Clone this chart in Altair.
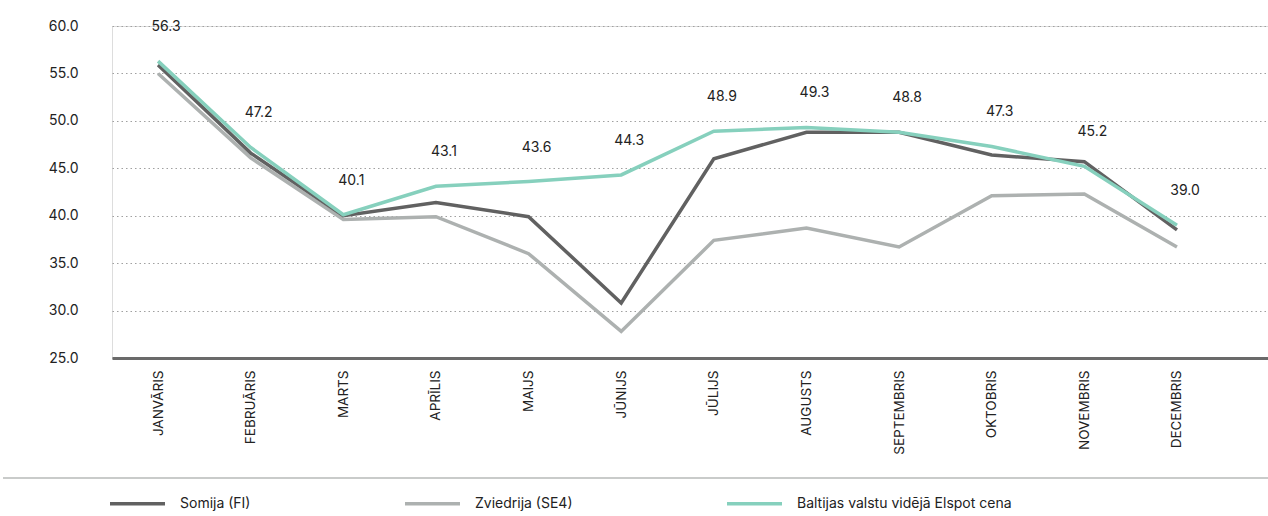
import altair as alt
import pandas as pd

months = ["JANVĀRIS", "FEBRUĀRIS", "MARTS", "APRĪLIS", "MAIJS", "JŪNIJS",
          "JŪLIJS", "AUGUSTS", "SEPTEMBRIS", "OKTOBRIS", "NOVEMBRIS", "DECEMBRIS"]
somija = [55.9, 46.6, 40.0, 41.4, 39.9, 30.8, 46.0, 48.8, 48.8, 46.4, 45.7, 38.5]
zviedrija = [55.0, 46.1, 39.6, 39.9, 36.0, 27.8, 37.4, 38.7, 36.7, 42.1, 42.3, 36.7]
baltija = [56.3, 47.2, 40.1, 43.1, 43.6, 44.3, 48.9, 49.3, 48.8, 47.3, 45.2, 39.0]

s_names = ["Somija (FI)", "Zviedrija (SE4)", "Baltijas valstu vidējā Elspot cena"]
s_colors = ["#616161", "#adb1b0", "#86d0bd"]
s_widths = [3.5, 3.5, 5.5]

rows = []
for name, vals in [(s_names[1], zviedrija), (s_names[0], somija), (s_names[2], baltija)]:
    for m, v in zip(months, vals):
        rows.append({"month": m, "value": v, "series": name})
df = pd.DataFrame(rows)

FONT = "Inter"

x = alt.X("month:N", sort=months, title=None,
          scale=alt.Scale(type="point", padding=0.74, align=0.336),
          axis=alt.Axis(labelAngle=-90, labelAlign="right", labelBaseline="middle",
                        labelPadding=12, ticks=False, labelFontSize=13.5,
                        labelColor="#222", labelFont=FONT,
                        domainColor="#6a6a6a", domainWidth=3, grid=False))
y = alt.Y("value:Q", title=None,
          scale=alt.Scale(domain=[25, 60], nice=False, zero=False),
          axis=alt.Axis(values=[25, 30, 35, 40, 45, 50, 55, 60], format=".1f",
                        domain=False, ticks=False, labelPadding=34,
                        labelFontSize=14, labelColor="#222", labelFont=FONT,
                        grid=True, gridDash=[1.5, 3], gridColor="#a0a0a0",
                        gridWidth=1.2))

lines = alt.Chart(df).mark_line().encode(
    x=x, y=y,
    color=alt.Color("series:N",
                    scale=alt.Scale(domain=s_names, range=s_colors),
                    legend=alt.Legend(title=None, orient="none", direction="horizontal",
                                      legendX=-4, legendY=448,
                                      symbolType="stroke", symbolSize=3025,
                                      symbolStrokeWidth=4, labelOffset=13,
                                      columnPadding=147, labelFontSize=14,
                                      labelLimit=500,
                                      labelColor="#222", labelFont=FONT)),
    strokeWidth=alt.StrokeWidth("series:N",
                                scale=alt.Scale(domain=s_names, range=s_widths),
                                legend=None),
)

labels = alt.Chart(df).transform_filter(
    alt.datum.series == s_names[2]
).mark_text(dy=-34, dx=8, fontSize=14, color="#222", font=FONT).encode(
    x=alt.X("month:N", sort=months), y="value:Q",
    text=alt.Text("value:Q", format=".1f"),
)

sep = alt.Chart(pd.DataFrame({"a": [0]})).mark_rule(color="#c9cbca", strokeWidth=2).encode(
    x=alt.value(-109), x2=alt.value(1156), y=alt.value(452)
)

chart = alt.layer(lines, labels, sep).properties(
    width=1156, height=332,
    autosize=alt.AutoSizeParams(type="none"),
    padding={"left": 112, "top": 26, "right": 0, "bottom": 158},
).configure_view(stroke=None).configure(background="white")

chart.save("out.html", embed_options={"renderer": "svg", "actions": False})
